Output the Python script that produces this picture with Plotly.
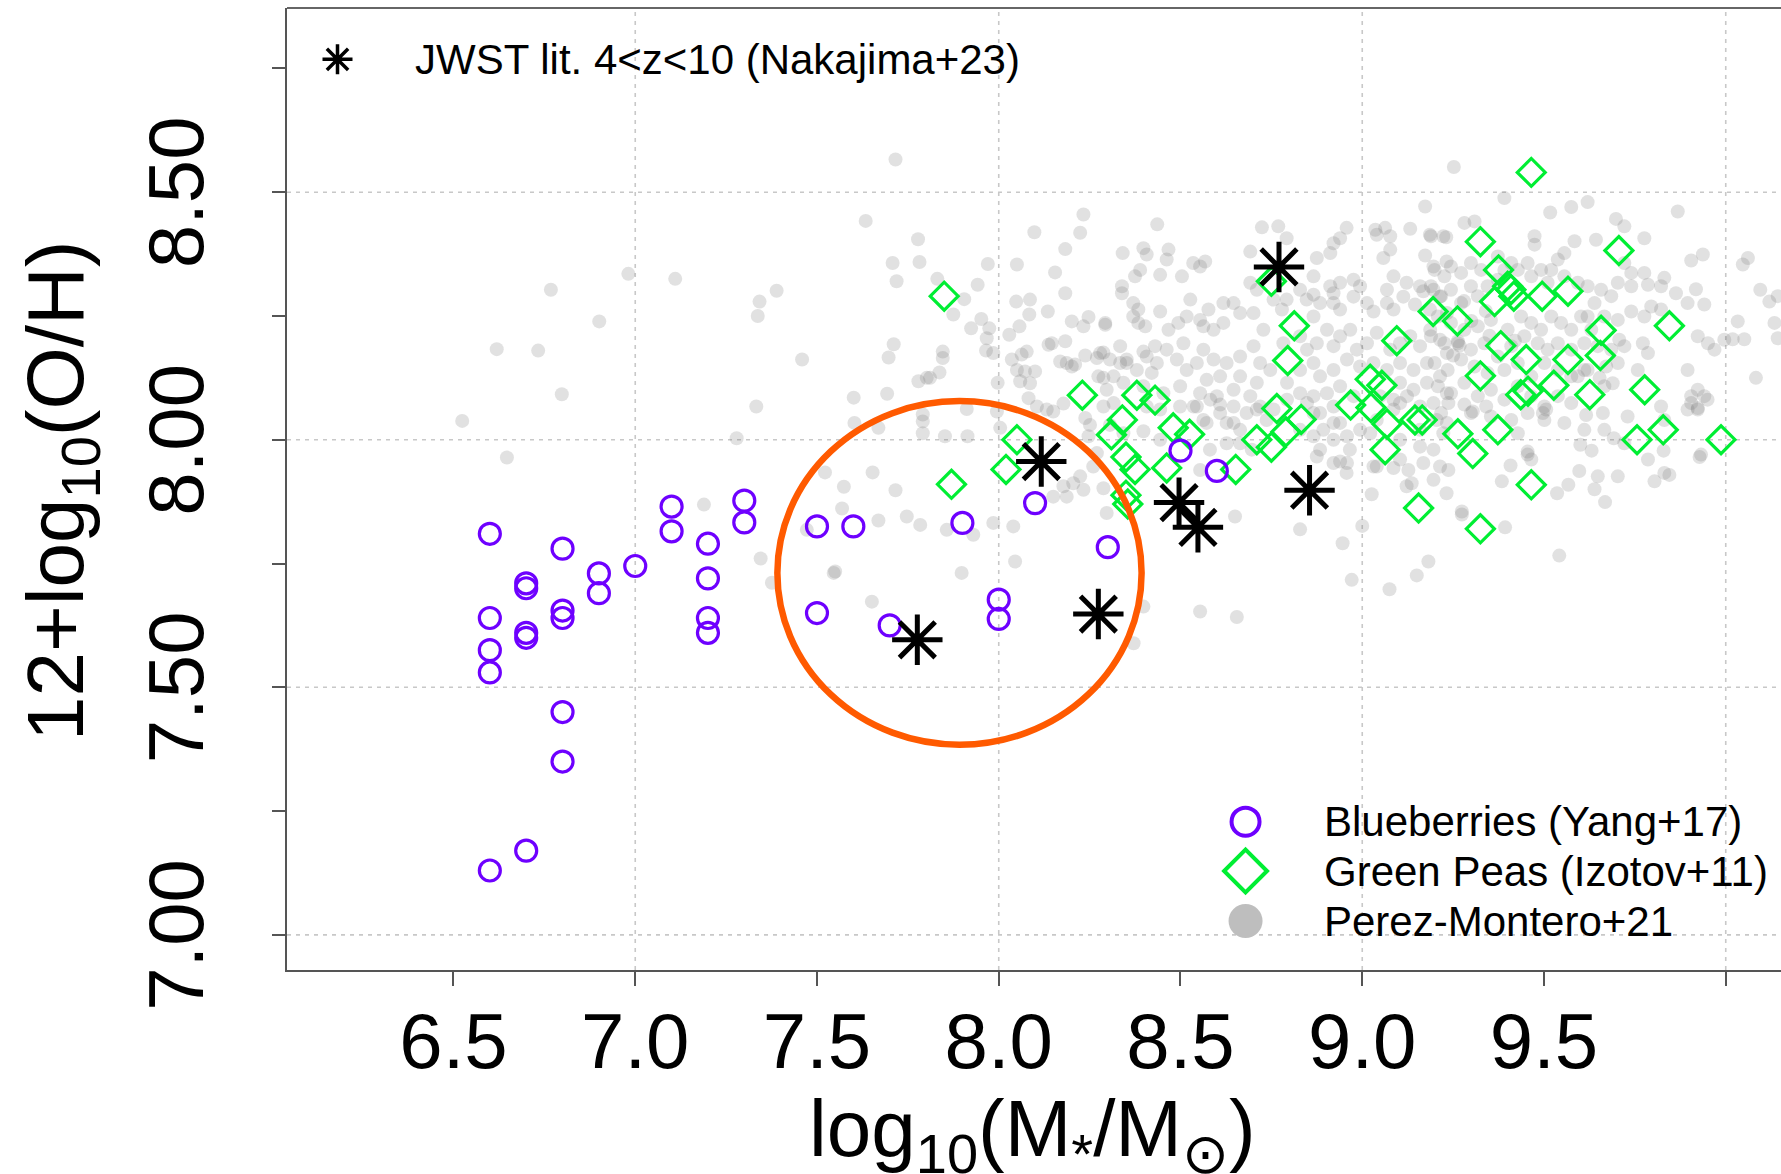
import plotly.graph_objects as go

# ---------------- data ----------------
# Blueberries (Yang+17)
bb_x = [6.6, 6.6, 6.6, 6.6, 6.6, 6.7, 6.7, 6.7, 6.7, 6.7, 6.8, 6.8, 6.8, 6.8, 6.8,
        6.9, 6.9, 7.0, 7.1, 7.1, 7.2, 7.2, 7.2, 7.2, 7.3, 7.3, 7.5, 7.5, 7.6, 7.7,
        7.9, 8.0, 8.0, 8.1, 8.3, 8.5, 8.6]
bb_y = [7.81, 7.64, 7.575, 7.53, 7.13, 7.71, 7.70, 7.60, 7.61, 7.17, 7.78, 7.655, 7.64, 7.45, 7.35,
        7.73, 7.69, 7.745, 7.865, 7.815, 7.79, 7.72, 7.64, 7.61, 7.877, 7.833, 7.825, 7.65, 7.825, 7.625,
        7.832, 7.677, 7.638, 7.872, 7.783, 7.978, 7.937]

# Green Peas (Izotov+11)
gp_x = [7.85, 7.87, 8.02, 8.05, 8.23, 8.31, 8.34, 8.35, 8.375, 8.35, 8.355, 8.38, 8.43, 8.48,
        8.525, 8.462, 8.652, 8.71, 8.75, 8.79, 8.765, 8.832, 8.75, 8.813, 8.795, 8.968, 9.024,
        9.022, 9.054, 9.068, 9.063, 9.145, 9.165, 9.155, 9.095, 9.195, 9.262, 9.263, 9.304,
        9.325, 9.375, 9.409, 9.417, 9.40, 9.364, 9.495, 9.566, 9.706, 9.465, 9.381, 9.325,
        9.451, 9.566, 9.657, 9.655, 9.845, 9.527, 9.436, 9.456, 9.626, 9.777, 9.373, 9.756,
        9.828, 9.987, 9.465, 9.325]
gp_y = [8.29, 7.91, 7.94, 8.00, 8.09, 8.01, 8.04, 7.965, 7.94, 7.888, 7.87, 8.09, 8.08, 8.024,
        8.011, 7.943, 7.94, 8.00, 7.985, 8.016, 8.063, 8.041, 8.32, 8.23, 8.16, 8.07, 8.065,
        8.122, 8.11, 8.032, 7.98, 8.04, 8.04, 7.862, 8.20, 8.259, 8.24, 8.012, 7.972,
        8.40, 8.343, 8.303, 8.29, 8.31, 8.279, 8.29, 8.30, 8.382, 8.54, 8.19, 8.129,
        8.162, 8.162, 8.221, 8.17, 8.23, 8.11, 8.091, 8.098, 8.091, 8.101, 8.02, 8.00,
        8.02, 8.00, 7.909, 7.82]

# JWST lit. 4<z<10 (Nakajima+23)
jwst_x = [7.776, 8.274, 8.117, 8.496, 8.548, 8.855, 8.771]
jwst_y = [7.596, 7.648, 7.956, 7.873, 7.823, 7.898, 8.349]

# Perez-Montero+21  (x = log M*, y = 12+log(O/H))
pm_left = [
    (6.768, 8.303), (6.619, 8.183), (6.733, 8.180), (6.901, 8.239), (6.798, 8.092), (6.524, 8.038),
    (6.981, 8.335), (7.110, 8.325), (7.342, 8.279), (7.337, 8.250), (7.389, 8.301), (7.333, 8.067),
    (7.279, 8.003), (6.647, 7.964), (7.634, 8.442), (7.716, 8.566), (7.708, 8.357), (7.719, 8.320),
    (7.711, 8.193), (7.697, 8.166), (7.459, 8.162), (7.601, 8.085), (7.693, 8.093), (7.522, 7.934),
    (7.653, 7.934), (7.574, 7.905), (7.716, 7.898), (7.569, 7.861), (7.669, 7.837), (7.189, 7.869),
    (7.345, 7.760), (7.546, 7.731), (7.376, 7.711), (7.472, 7.818),
]
pm_mid = [
    (7.778, 8.405), (7.782, 8.359), (7.970, 8.355), (7.831, 8.325), (7.942, 8.313), (7.905, 8.284),
    (7.875, 8.253), (7.924, 8.225), (7.952, 8.244), (7.974, 8.225), (7.967, 8.205), (7.965, 8.180),
    (7.846, 8.178), (7.846, 8.165), (7.837, 8.136), (7.802, 8.125), (7.811, 8.125), (7.779, 8.118),
    (7.791, 8.051), (7.791, 8.037), (7.791, 8.013), (7.912, 8.062), (7.852, 8.007), (7.914, 8.007),
    (7.603, 8.034), (7.669, 8.024), (7.997, 8.115), (8.029, 8.212), (8.057, 8.229), (8.048, 8.279),
    (8.086, 8.283), (8.084, 8.253), (8.050, 8.354), (8.098, 8.419), (8.155, 8.338), (8.183, 8.296),
    (8.135, 8.259), (8.183, 8.385), (8.224, 8.418), (8.233, 8.455), (8.201, 8.239), (8.233, 8.229),
    (8.247, 8.248), (8.293, 8.232), (8.146, 8.195), (8.137, 8.192), (8.183, 8.199), (8.036, 8.162),
    (8.063, 8.172), (8.077, 8.178), (8.238, 8.170), (8.288, 8.176), (8.169, 8.158), (8.201, 8.148),
    (8.210, 8.152), (8.072, 8.138), (8.100, 8.138), (8.059, 8.118), (8.082, 8.084), (8.105, 8.067),
    (8.132, 8.061), (8.178, 8.073), (8.238, 8.044), (8.251, 8.030), (8.274, 8.128), (8.288, 8.125),
    (7.995, 8.057), (8.004, 8.024),
    (7.985, 8.175), (8.050, 8.141), (8.086, 8.114), (8.150, 8.057), (8.187, 8.155), (8.270, 8.165),
    (8.352, 8.162), (8.398, 8.178), (8.421, 8.135), (8.334, 8.155), (8.306, 8.030), (8.343, 8.013),
    (8.247, 8.007), (8.270, 7.973), (8.260, 7.946), (8.233, 7.899), (8.288, 7.902), (8.205, 7.912),
    (8.178, 7.906), (8.224, 7.926), (8.150, 7.885), (8.187, 7.885), (8.297, 7.852), (8.040, 7.825),
    (7.985, 7.832), (8.045, 7.754), (7.898, 7.731), (7.930, 7.808), (7.857, 7.818), (7.784, 7.828),
    (7.747, 7.845), (7.550, 7.734), (7.651, 7.673), (8.371, 7.589), (8.398, 7.663),
]
pm_low = [
    (8.650, 7.845), (8.829, 7.819), (8.946, 7.791), (8.971, 7.717), (9.075, 7.698), (9.150, 7.726),
    (9.182, 7.754), (9.000, 7.826), (9.026, 7.890), (8.957, 7.933), (8.966, 7.980), (8.921, 8.000),
    (8.893, 8.020), (8.939, 8.034), (8.884, 7.980), (8.939, 7.956), (9.127, 7.939), (9.136, 7.912),
    (9.122, 7.906), (9.196, 7.919), (9.237, 7.939), (9.232, 7.892), (9.086, 7.943), (9.040, 7.946),
    (9.159, 7.986), (8.554, 7.653), (8.655, 7.642), (8.627, 7.993), (8.581, 7.980), (8.554, 7.939),
    (8.398, 8.017), (8.444, 8.000), (8.444, 8.061), (8.545, 8.067), (8.609, 8.071), (8.646, 8.034),
    (8.563, 8.040), (8.710, 8.061), (8.664, 7.993), (8.696, 7.980), (8.737, 8.040), (8.866, 8.054),
    (9.022, 8.013), (9.040, 8.040), (9.086, 8.061), (9.104, 8.074), (9.205, 8.040), (9.223, 8.013),
    (9.237, 8.074),
    (9.274, 7.849), (9.274, 7.855), (9.384, 7.916), (9.408, 7.948), (9.393, 7.823), (9.455, 7.976),
    (9.455, 7.970), (9.542, 7.766), (9.536, 7.892), (9.567, 7.909), (9.597, 7.937), (9.639, 7.900),
    (9.668, 7.874), (9.600, 7.990), (9.631, 7.978), (9.692, 8.003), (9.730, 8.047), (9.662, 8.054),
    (9.721, 7.993), (9.804, 7.916), (9.845, 7.929), (9.829, 7.978), (9.928, 7.965), (9.932, 7.970),
    (9.923, 8.061), (9.304, 8.057), (9.341, 8.067), (9.281, 8.071), (9.497, 8.054), (9.506, 8.061),
    (9.616, 8.050), (9.428, 8.013), (9.410, 8.040), (9.950, 8.081), (9.905, 8.074),
]
pm_right = [
    (9.252, 8.551), (9.391, 8.488), (9.517, 8.459), (9.575, 8.470), (9.620, 8.480), (9.868, 8.461),
    (9.698, 8.446), (9.721, 8.431), (9.281, 8.438), (9.309, 8.441), (9.189, 8.411), (9.231, 8.409),
    (9.474, 8.411), (9.474, 8.394), (9.584, 8.401), (9.643, 8.404), (9.776, 8.407), (9.905, 8.362),
    (9.937, 8.374), (10.061, 8.367), (10.047, 8.354), (10.095, 8.303), (10.120, 8.279), (10.143, 8.290),
    (10.134, 8.236), (10.033, 8.239), (10.143, 8.205), (10.051, 8.203), (10.019, 8.203), (9.996, 8.202),
    (9.969, 8.182), (9.951, 8.195), (9.923, 8.209), (10.083, 8.125), (9.941, 8.273), (9.895, 8.276),
    (9.863, 8.296), (9.831, 8.327), (9.822, 8.310), (9.786, 8.313), (9.776, 8.337), (9.740, 8.337),
    (9.721, 8.357), (9.918, 8.304), (9.707, 8.202), (9.740, 8.259), (9.776, 8.249), (9.795, 8.269),
    (9.822, 8.263), (9.772, 8.195), (9.786, 8.175), (9.758, 8.141), (9.721, 8.189), (9.703, 8.155),
    (9.689, 8.114), (9.895, 8.141), (9.923, 8.101), (9.941, 8.088), (9.905, 8.088), (9.895, 8.061),
    (9.923, 8.064), (9.822, 8.067), (9.831, 8.040), (9.831, 7.933), (9.671, 8.148), (9.653, 8.125),
    (9.666, 8.108), (9.620, 8.141), (9.593, 8.128), (9.703, 8.242), (9.666, 8.249), (9.639, 8.276),
    (9.620, 8.249), (9.556, 8.377), (9.538, 8.364), (9.520, 8.343), (9.492, 8.343), (9.455, 8.357),
    (9.428, 8.343), (9.465, 8.330), (9.510, 8.317), (9.556, 8.330), (9.593, 8.317), (9.620, 8.310),
    (9.657, 8.303), (9.685, 8.290), (9.703, 8.317), (9.740, 8.310), (9.199, 8.343), (9.226, 8.330),
    (9.244, 8.350), (9.272, 8.337), (9.299, 8.357), (9.327, 8.343), (9.373, 8.370), (9.391, 8.343),
    (9.410, 8.357), (9.189, 8.310), (9.217, 8.290), (9.244, 8.303), (9.272, 8.276), (9.299, 8.310),
    (9.318, 8.290), (9.345, 8.310), (9.373, 8.323),
    (9.208, 8.249), (9.244, 8.236), (9.281, 8.222), (9.318, 8.229), (9.354, 8.242), (9.400, 8.222),
    (9.437, 8.249), (9.465, 8.236), (9.492, 8.222), (9.520, 8.249), (9.547, 8.236), (9.575, 8.222),
    (9.602, 8.249), (9.630, 8.222),
    (9.189, 8.209), (9.226, 8.195), (9.263, 8.199), (9.299, 8.182), (9.336, 8.195), (9.373, 8.168),
    (9.410, 8.189), (9.446, 8.209), (9.483, 8.195), (9.510, 8.182), (9.538, 8.195), (9.575, 8.182),
    (9.611, 8.195), (9.648, 8.189), (9.685, 8.182),
    (9.199, 8.155), (9.235, 8.141), (9.272, 8.162), (9.309, 8.148), (9.345, 8.135), (9.391, 8.141),
    (9.428, 8.155), (9.465, 8.128), (9.501, 8.155), (9.538, 8.141), (9.575, 8.128), (9.611, 8.141),
    (9.208, 8.108), (9.244, 8.094), (9.281, 8.115), (9.318, 8.088), (9.354, 8.101), (9.391, 8.081),
    (9.428, 8.108), (9.465, 8.088), (9.501, 8.067), (9.538, 8.088), (9.575, 8.074),
    (9.217, 8.054), (9.299, 8.054), (9.354, 8.047), (9.455, 8.054), (9.501, 8.040), (9.556, 8.034),
    (9.611, 8.020), (9.666, 8.020), (9.465, 7.960), (9.648, 7.926), (9.703, 7.926), (9.786, 7.960),
    (9.263, 8.195), (9.268, 8.190), (9.300, 8.240), (9.340, 8.260), (9.250, 8.170), (9.350, 8.210),
    (9.420, 8.200), (9.280, 8.280),
]
pm_core = [
    (9.173, 8.471), (8.436, 8.435), (8.724, 8.429), (8.769, 8.431), (8.792, 8.407), (8.957, 8.428),
    (8.939, 8.407), (8.921, 8.397), (9.036, 8.424), (9.063, 8.428), (9.040, 8.414), (9.077, 8.411),
    (9.132, 8.426), (9.186, 8.414), (9.223, 8.411), (8.341, 8.377), (8.398, 8.387), (8.407, 8.374),
    (8.467, 8.384), (8.462, 8.364), (8.692, 8.380), (8.875, 8.367), (8.912, 8.377), (9.058, 8.367),
    (9.077, 8.384), (9.173, 8.372), (9.196, 8.350), (9.232, 8.360), (8.389, 8.343), (8.444, 8.333),
    (8.375, 8.330), (8.504, 8.330), (8.535, 8.357), (8.554, 8.350), (8.568, 8.360), (8.692, 8.317),
    (8.710, 8.303), (8.866, 8.330), (8.866, 8.293), (8.829, 8.303), (8.921, 8.296), (8.912, 8.310),
    (8.939, 8.317), (8.976, 8.323), (9.086, 8.330), (9.122, 8.317), (9.068, 8.303), (9.168, 8.300),
    (9.196, 8.303), (8.339, 8.310), (8.339, 8.296), (8.293, 8.236), (8.370, 8.276), (8.384, 8.263),
    (8.370, 8.249), (8.384, 8.236), (8.403, 8.229), (8.444, 8.259), (8.467, 8.222), (8.494, 8.236),
    (8.517, 8.249), (8.527, 8.283), (8.554, 8.242), (8.563, 8.229), (8.577, 8.263), (8.591, 8.222),
    (8.618, 8.276), (8.646, 8.276), (8.664, 8.256), (8.618, 8.236), (8.701, 8.256), (8.728, 8.222),
    (8.756, 8.283), (8.779, 8.263), (8.792, 8.283), (8.847, 8.283), (8.884, 8.276), (8.866, 8.249),
    (8.921, 8.276), (8.939, 8.263), (8.976, 8.289), (8.994, 8.310), (9.013, 8.276), (9.031, 8.259),
    (9.068, 8.276), (9.086, 8.263), (9.113, 8.289), (9.145, 8.273), (9.159, 8.310), (9.186, 8.263),
    (9.214, 8.289), (9.233, 8.256),
    (8.279, 8.175), (8.306, 8.162), (8.334, 8.189), (8.352, 8.155), (8.316, 8.128), (8.297, 8.101),
    (8.343, 8.115), (8.380, 8.141), (8.407, 8.168), (8.430, 8.189), (8.435, 8.155), (8.462, 8.182),
    (8.490, 8.162), (8.508, 8.195), (8.517, 8.141), (8.545, 8.155), (8.563, 8.182), (8.591, 8.162),
    (8.609, 8.128), (8.572, 8.121), (8.627, 8.155), (8.664, 8.168), (8.664, 8.128), (8.701, 8.189),
    (8.719, 8.155), (8.710, 8.115), (8.747, 8.141), (8.692, 8.088), (8.646, 8.101), (8.600, 8.088),
    (8.554, 8.094), (8.499, 8.108), (8.453, 8.094), (8.398, 8.108), (8.783, 8.195), (8.829, 8.209),
    (8.848, 8.182), (8.875, 8.195), (8.903, 8.222), (8.921, 8.189), (8.939, 8.209), (8.967, 8.222),
    (8.985, 8.182), (9.013, 8.195), (9.040, 8.216), (9.077, 8.182), (9.104, 8.195), (9.132, 8.209),
    (9.159, 8.189), (9.187, 8.222), (9.214, 8.202), (9.233, 8.175), (9.178, 8.155), (9.141, 8.141),
    (9.104, 8.155), (9.068, 8.141), (9.031, 8.155), (8.994, 8.148), (8.958, 8.162), (8.921, 8.141),
    (8.884, 8.128), (8.866, 8.155), (8.829, 8.141), (8.793, 8.115), (8.829, 8.094), (8.866, 8.088),
    (8.903, 8.094), (8.939, 8.108), (8.976, 8.088), (9.104, 8.115), (9.141, 8.101), (9.178, 8.115),
    (9.214, 8.128), (9.233, 8.094), (9.196, 8.074), (9.159, 8.067), (9.123, 8.088), (9.086, 8.081),
    (9.049, 8.088), (8.921, 8.067), (8.884, 8.054), (8.848, 8.074), (8.793, 8.081), (8.756, 8.061),
    (8.719, 8.067), (8.682, 8.054), (8.646, 8.067), (8.609, 8.054), (8.582, 8.081), (8.536, 8.067),
    (8.499, 8.067), (8.407, 8.067), (8.316, 8.074),
    (8.288, 8.067), (8.627, 8.034), (8.664, 8.020), (8.572, 8.034), (8.829, 8.020), (8.866, 8.007),
    (8.921, 8.034), (8.958, 8.007), (8.994, 8.020), (9.104, 8.000), (9.159, 8.020), (9.196, 7.980),
    (9.233, 8.034), (8.875, 7.966), (8.921, 7.953), (8.958, 7.953), (9.031, 7.946), (9.104, 7.960),
    (9.168, 7.953), (9.214, 7.946),
]

pm_all = pm_left + pm_mid + pm_low + pm_right + pm_core
pm_x = [p[0] for p in pm_all]
pm_y = [p[1] for p in pm_all]

# axes / ticks
x_range = [6.042, 10.152]
y_range = [6.929, 8.872]
x_ticks = [6.5, 7.0, 7.5, 8.0, 8.5, 9.0, 9.5, 10.0]
x_tick_labels = ["6.5", "7.0", "7.5", "8.0", "8.5", "9.0", "9.5", ""]
y_ticks = [7.0, 7.25, 7.5, 7.75, 8.0, 8.25, 8.5, 8.75]
y_label_vals = [7.0, 7.5, 8.0, 8.5]
y_label_text = ["7.00", "7.50", "8.00", "8.50"]
grid_x = [7.0, 8.0, 9.0, 10.0]
grid_y = [7.0, 7.5, 8.0, 8.5]

# highlighted region (orange ellipse)
ell_cx, ell_cy = 7.892, 7.731
ell_rx, ell_ry = 0.501, 0.347

FONT = "Liberation Sans, Arial, Helvetica, sans-serif"
PURPLE = "#6E00FF"
GREEN = "#00EE33"

fig = go.Figure()

fig.add_trace(go.Scatter(
    x=pm_x, y=pm_y, mode="markers", name="Perez-Montero+21",
    marker=dict(symbol="circle", size=14, color="rgba(120,120,120,0.22)", line=dict(width=0)),
    hoverinfo="skip"))
fig.add_trace(go.Scatter(
    x=gp_x, y=gp_y, mode="markers", name="Green Peas (Izotov+11)",
    marker=dict(symbol="diamond-open", size=21.5, color=GREEN, line=dict(width=3.2, color=GREEN))))
fig.add_trace(go.Scatter(
    x=bb_x, y=bb_y, mode="markers", name="Blueberries (Yang+17)",
    marker=dict(symbol="circle-open", size=21, color=PURPLE, line=dict(width=3.2, color=PURPLE))))
fig.add_trace(go.Scatter(
    x=jwst_x, y=jwst_y, mode="markers", name="JWST lit. 4<z<10 (Nakajima+23)",
    marker=dict(symbol="asterisk-open", size=42, color="black", line=dict(width=5, color="black"))))

# legend glyphs on an auxiliary [0,1] frame overlaying the plot
leg_sym = [
    dict(x=0.0338, y=0.9467, symbol="asterisk-open", size=25, color="black", lw=3.5),
    dict(x=0.6416, y=0.1542, symbol="circle-open", size=28, color=PURPLE, lw=4),
    dict(x=0.6416, y=0.1029, symbol="diamond-open", size=33, color=GREEN, lw=4),
    dict(x=0.6416, y=0.0509, symbol="circle", size=34, color="#BEBEBE", lw=0),
]
for s in leg_sym:
    fig.add_trace(go.Scatter(
        x=[s["x"]], y=[s["y"]], xaxis="x2", yaxis="y2", mode="markers", showlegend=False,
        hoverinfo="skip", cliponaxis=False,
        marker=dict(symbol=s["symbol"], size=s["size"], color=s["color"],
                    line=dict(width=s["lw"], color=s["color"]))))

leg_text = [
    (0.0843, 0.9467, "JWST lit. 4<z<10 (Nakajima+23)"),
    (0.6931, 0.1542, "Blueberries (Yang+17)"),
    (0.6931, 0.1029, "Green Peas (Izotov+11)"),
    (0.6931, 0.0509, "Perez-Montero+21"),
]
annotations = []
for lx, ly, t in leg_text:
    annotations.append(dict(x=lx, y=ly, xref="paper", yref="paper", text=t.replace("<", "&lt;"),
                            showarrow=False, xanchor="left", yanchor="middle",
                            font=dict(family=FONT, size=42, color="black")))

# rotated y tick labels (placed at the tick values on the y axis)
for v, t in zip(y_label_vals, y_label_text):
    annotations.append(dict(x=-0.0743, y=v, xref="paper", yref="y", text=t, textangle=-90,
                            showarrow=False, xanchor="center", yanchor="middle",
                            font=dict(family=FONT, size=78, color="black")))

annotations.append(dict(x=0.4993, y=-0.116, xref="paper", yref="paper",
                        text="log<sub>10</sub>(M<sub>*</sub>/M<sub>⊙</sub>)",
                        showarrow=False, xanchor="center", yanchor="top",
                        font=dict(family=FONT, size=80, color="black")))
annotations.append(dict(x=-0.1506, y=0.498, xref="paper", yref="paper",
                        text="12+log<sub>10</sub>(O/H)", textangle=-90,
                        showarrow=False, xanchor="center", yanchor="middle",
                        font=dict(family=FONT, size=80, color="black")))

shapes = []
for gx in grid_x:
    shapes.append(dict(type="line", xref="x", yref="paper", x0=gx, x1=gx, y0=0, y1=1,
                       line=dict(color="#C8C8C8", width=1.6, dash="4px,5px"), layer="below"))
for gy in grid_y:
    shapes.append(dict(type="line", xref="paper", yref="y", x0=0, x1=1, y0=gy, y1=gy,
                       line=dict(color="#C8C8C8", width=1.6, dash="4px,5px"), layer="below"))
shapes.append(dict(type="line", xref="paper", yref="paper", x0=0, x1=1, y0=1, y1=1,
                   line=dict(color="#666666", width=2)))
shapes.append(dict(type="circle", xref="x", yref="y",
                   x0=ell_cx - ell_rx, x1=ell_cx + ell_rx, y0=ell_cy - ell_ry, y1=ell_cy + ell_ry,
                   line=dict(color="#FF5A00", width=6.5), layer="above"))

fig.update_layout(
    width=1781, height=1174,
    margin=dict(l=287, r=0, t=8, b=204, pad=0),
    paper_bgcolor="white", plot_bgcolor="white",
    showlegend=False,
    font=dict(family=FONT, color="black"),
    xaxis=dict(range=x_range, tickvals=x_ticks, ticktext=x_tick_labels,
               ticks="outside", ticklen=14, tickwidth=1.5, tickcolor="#555555",
               showline=True, linecolor="#555555", linewidth=2, showgrid=False, zeroline=False,
               tickfont=dict(family=FONT, size=78, color="black"), ticklabelstandoff=-12),
    yaxis=dict(range=y_range, tickvals=y_ticks, showticklabels=False,
               ticks="outside", ticklen=13, tickwidth=1.5, tickcolor="#555555",
               showline=True, linecolor="#555555", linewidth=2, showgrid=False, zeroline=False),
    xaxis2=dict(range=[0, 1], overlaying="x", visible=False, fixedrange=True),
    yaxis2=dict(range=[0, 1], overlaying="y", visible=False, fixedrange=True),
    annotations=annotations,
    shapes=shapes,
)

fig.write_html("out.html")
